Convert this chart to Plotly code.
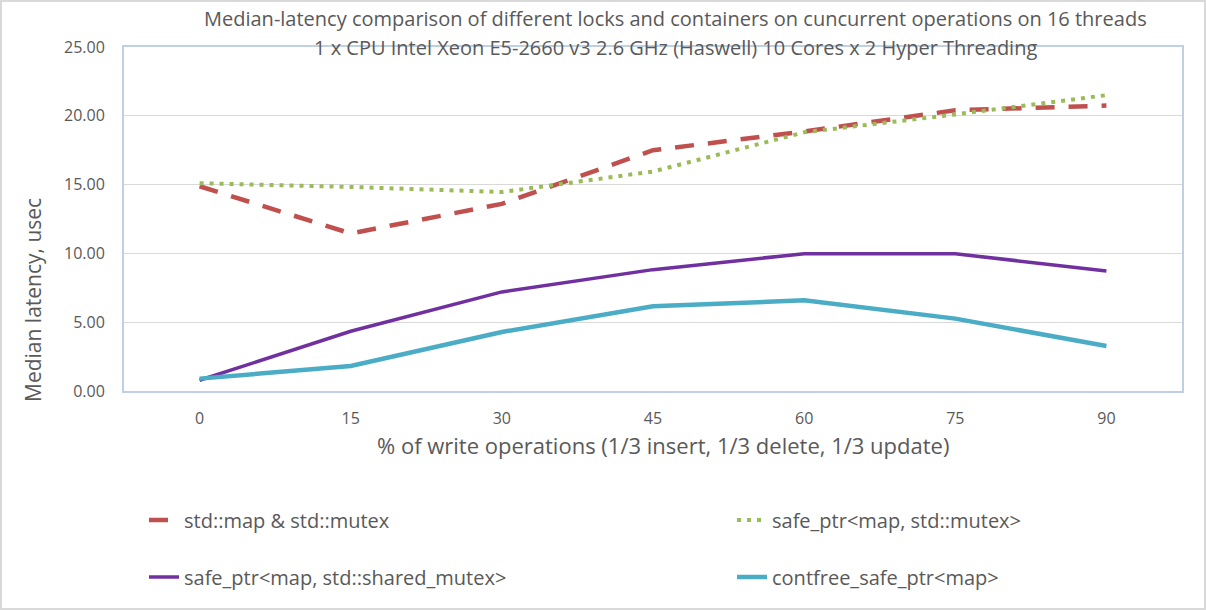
import plotly.graph_objects as go

# % of write operations (categories)
write_pct = ["0", "15", "30", "45", "60", "75", "90"]

# median latency, usec
std_map_mutex = [14.88, 11.45, 13.6, 17.5, 18.86, 20.4, 20.74]
safe_ptr_mutex = [15.1, 14.83, 14.46, 15.95, 18.8, 20.1, 21.5]
safe_ptr_shared_mutex = [0.78, 4.34, 7.2, 8.82, 9.98, 9.98, 8.72]
contfree_safe_ptr = [0.9, 1.82, 4.29, 6.16, 6.59, 5.26, 3.27]

title_lines = [
    "Median-latency comparison of different locks and containers on cuncurrent operations on 16 threads",
    "1 x CPU Intel Xeon E5-2660 v3 2.6 GHz (Haswell) 10 Cores x 2 Hyper Threading",
]
x_title = "% of write operations (1/3 insert, 1/3 delete, 1/3 update)"
y_title = "Median latency, usec"

FONT = "Open Sans"
TXT = "#595959"

L, R, T, B = 124, 24, 47, 219
W, H = 1206, 610
pw, ph = W - L - R, H - T - B


def px_x(x):
    return (x - L) / pw


def px_y(y):
    return (T + ph - y) / ph


fig = go.Figure()

fig.add_trace(go.Scatter(
    x=write_pct, y=std_map_mutex, mode="lines", name="std::map & std::mutex",
    line=dict(color="#C0504D", width=4.5, dash="19px,14px"), legend="legend"))
fig.add_trace(go.Scatter(
    x=write_pct, y=safe_ptr_mutex, mode="lines", name="safe_ptr<map, std::mutex>",
    line=dict(color="#9BBB59", width=4, dash="4px,6px"), legend="legend2"))
fig.add_trace(go.Scatter(
    x=write_pct, y=safe_ptr_shared_mutex, mode="lines",
    name="safe_ptr<map, std::shared_mutex>",
    line=dict(color="#7030A0", width=3.5), legend="legend3"))
fig.add_trace(go.Scatter(
    x=write_pct, y=contfree_safe_ptr, mode="lines", name="contfree_safe_ptr<map>",
    line=dict(color="#4BACC6", width=4.5), legend="legend4"))

leg = dict(orientation="h", xanchor="left", yanchor="middle",
           font=dict(size=20, color=TXT), bgcolor="rgba(0,0,0,0)")

fig.update_layout(
    width=W, height=H,
    margin=dict(l=L, r=R, t=T, b=B, autoexpand=False),
    paper_bgcolor="white", plot_bgcolor="white",
    font=dict(family=FONT, color=TXT),
    xaxis=dict(
        type="category", range=[-0.5, 6.5], automargin=False,
        showgrid=False, showline=True, linecolor="#BFD0E6", linewidth=2, mirror=True,
        ticks="", ticklabelstandoff=12, tickfont=dict(size=16, color=TXT)),
    yaxis=dict(
        range=[0, 25], dtick=5, tickformat=".2f", automargin=False,
        showgrid=True, gridcolor="#D9D9D9", gridwidth=1,
        showline=True, linecolor="#BFD0E6", linewidth=2, mirror=True,
        zeroline=False, ticks="", ticklabelstandoff=14,
        tickfont=dict(size=16, color=TXT)),
    legend=dict(leg, x=px_x(144), y=px_y(520)),
    legend2=dict(leg, x=px_x(732), y=px_y(520)),
    legend3=dict(leg, x=px_x(144), y=px_y(577)),
    legend4=dict(leg, x=px_x(732), y=px_y(577)),
    showlegend=True,
)

# two-line chart title
for text, ypx in zip(title_lines, [18, 47]):
    fig.add_annotation(text=text, xref="paper", yref="paper",
                       x=px_x(675), y=px_y(ypx), xanchor="center", yanchor="middle",
                       showarrow=False, font=dict(family=FONT, size=20, color=TXT))

# axis titles placed like the original
fig.add_annotation(text=x_title, xref="paper", yref="paper",
                   x=px_x(663), y=px_y(445), xanchor="center", yanchor="middle",
                   showarrow=False, font=dict(family=FONT, size=22, color=TXT))
fig.add_annotation(text=y_title, textangle=-90,
                   xref="paper", yref="paper", x=px_x(33), y=px_y(300),
                   xanchor="center", yanchor="middle", showarrow=False,
                   font=dict(family=FONT, size=21, color=TXT))

# outer light-gray chart border
fig.add_shape(type="rect", xref="paper", yref="paper",
              x0=px_x(1), x1=px_x(W - 1), y0=px_y(H - 1), y1=px_y(1),
              line=dict(color="#D9D9D9", width=2), layer="below")

fig.write_html("out.html", config={"displayModeBar": False},
               post_script="document.body.style.margin='0';")
